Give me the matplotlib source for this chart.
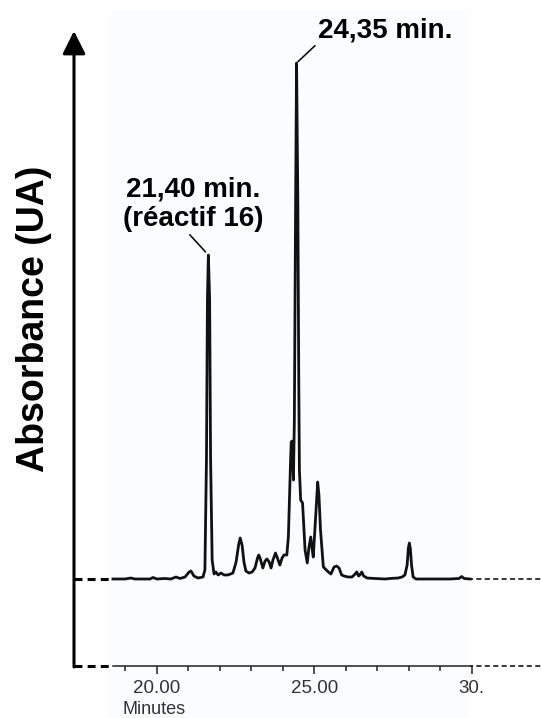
"""
Chromatogramme HPLC : absorbance en fonction du temps de rétention
"""

import matplotlib.pyplot as plt
from matplotlib.patches import Rectangle
import numpy as np

plt.rcParams["font.family"] = ["Liberation Sans", "DejaVu Sans"]

# temps de rétention (min) et absorbance relative (pic principal = 100)
temps = [18.61, 18.99, 19.18, 19.31, 19.79, 19.88, 20.01, 20.26, 20.45, 20.61,
         20.74, 20.90, 21.03, 21.09, 21.18, 21.31, 21.47, 21.53, 21.58, 21.61,
         21.64, 21.68, 21.71, 21.76, 21.82, 21.88, 21.95, 22.04, 22.14, 22.26,
         22.42, 22.52, 22.60, 22.65, 22.71, 22.77, 22.83, 22.93, 23.03, 23.12,
         23.20, 23.24, 23.28, 23.37, 23.44, 23.50, 23.57, 23.63, 23.69, 23.77,
         23.82, 23.91, 23.98, 24.04, 24.13, 24.18, 24.25, 24.27, 24.30, 24.34,
         24.37, 24.41, 24.44, 24.48, 24.51, 24.53, 24.57, 24.63, 24.71, 24.78,
         24.83, 24.89, 24.93, 24.97, 25.04, 25.11, 25.15, 25.20, 25.29, 25.45,
         25.53, 25.63, 25.71, 25.79, 25.87, 25.95, 26.07, 26.20, 26.30, 26.35,
         26.41, 26.45, 26.51, 26.57, 26.68, 26.93, 27.25, 27.41, 27.66, 27.79,
         27.88, 27.95, 27.99, 28.02, 28.05, 28.09, 28.14, 28.23, 28.68, 28.99,
         29.31, 29.60, 29.68, 29.76, 29.95]
absorbance = [0.0, 0.0, 0.19, 0.0, 0.0, 0.29, 0.0, 0.10, 0.0, 0.39,
              0.10, 0.39, 1.36, 1.55, 0.58, 0.19, 0.39, 1.74, 23.45, 54.07,
              62.79, 54.07, 23.45, 3.68, 0.97, 1.36, 0.78, 1.16, 0.78, 0.78,
              1.16, 3.29, 6.59, 7.95, 6.59, 3.29, 1.55, 1.16, 1.36, 2.13,
              4.07, 4.65, 4.07, 2.13, 3.49, 3.88, 3.29, 2.13, 3.68, 5.04,
              4.26, 2.71, 4.07, 4.65, 4.65, 8.14, 23.06, 26.55, 26.74, 19.19,
              30.81, 73.45, 100.0, 73.45, 38.57, 21.12, 15.31, 14.73, 5.62, 3.10,
              6.01, 8.14, 6.01, 4.26, 11.43, 18.80, 16.28, 9.50, 2.33, 1.36,
              0.97, 2.33, 2.52, 2.13, 0.78, 0.58, 0.39, 0.39, 0.97, 1.36,
              0.58, 0.78, 1.36, 0.58, 0.19, 0.10, 0.0, 0.10, 0.19, 0.39,
              0.78, 2.71, 6.01, 6.98, 6.01, 2.71, 0.39, 0.0, 0.0, 0.0,
              0.0, 0.10, 0.48, 0.10, 0.0]

ticks_majeurs = [20, 25, 30]
ticks_labels = ["20.00", "25.00", "30."]
ticks_mineurs = [19, 21, 22, 23, 24, 26, 27, 28, 29]
etiquettes = ["24,35 min.", "21,40 min.\n(réactif 16)"]

W, H = 541, 718
fig = plt.figure(figsize=(W / 100, H / 100), dpi=100)

# calque de décor en pixels : axe fléché, pointillés, fond de l'encart
deco = fig.add_axes([0, 0, 1, 1], zorder=0)
deco.set_xlim(0, W)
deco.set_ylim(H, 0)
deco.axis("off")

for y in (579, 666):
    deco.plot([74, 112], [y, y], color="black", lw=2.2, ls=(0, (2.6, 1.7)),
              solid_capstyle="butt")
    deco.plot([468, W], [y, y], color="black", lw=1.1, ls=(0, (3.3, 2.2)))

deco.add_patch(Rectangle((110, 10), 360, H - 10, facecolor="#fafcfd",
                         edgecolor="none", zorder=3))

deco.annotate("", xy=(74, 31), xytext=(74, 667),
              arrowprops=dict(arrowstyle="-|>,head_length=0.4,head_width=0.2",
                              color="black", lw=2.2, mutation_scale=35,
                              shrinkA=0, shrinkB=0), zorder=4)
deco.text(34, 319, "Absorbance (UA)", rotation=90, ha="center", va="center",
          fontsize=27, fontweight="bold", zorder=4)

# chromatogramme
ax = fig.add_axes([110 / W, (H - 666) / H, 361.7 / W, (666 - 10) / H], zorder=1)
ax.patch.set_alpha(0)
ax.plot(temps, absorbance, color="#111111", lw=2.0, solid_joinstyle="round")

ax.set_xlim(18.517, 30.0)
ax.set_ylim(-(666 - 579) / 5.16, (579 - 10) / 5.16)
for s in ["left", "top", "right"]:
    ax.spines[s].set_visible(False)
ax.spines["bottom"].set_linewidth(1.1)
ax.spines["bottom"].set_color("#222222")
ax.spines["bottom"].set_bounds(18.61, 30.0)
ax.set_yticks([])
ax.set_xticks(ticks_majeurs)
ax.set_xticklabels(ticks_labels)
ax.set_xticks(ticks_mineurs, minor=True)
ax.tick_params(axis="x", which="major", length=5.8, width=1.1, color="#222222",
               labelsize=13.5, labelcolor="#333333", pad=4)
ax.tick_params(axis="x", which="minor", length=3.6, width=1.1, color="#222222")
fig.text(123 / W, 1 - 714 / H, "Minutes", fontsize=13, color="#333333",
         ha="left", va="baseline")

# étiquettes des pics
t = np.array(temps)
a = np.array(absorbance)
i_main = int(np.argmax(a))
i_reac = int(np.argmax(np.where(t < 23, a, 0)))

ax.annotate(etiquettes[0], xy=(t[i_main], a[i_main]), xytext=(15.3, 14.4),
            textcoords="offset points", ha="left", va="bottom",
            fontsize=20, fontweight="bold",
            arrowprops=dict(arrowstyle="-", color="black", lw=1.1,
                            shrinkA=0, shrinkB=1.5, relpos=(0, 0)))
ax.annotate(etiquettes[1], xy=(t[i_reac], a[i_reac]), xytext=(-11.2, 16.6),
            textcoords="offset points", ha="center", va="bottom",
            multialignment="center", linespacing=1.15,
            fontsize=20, fontweight="bold",
            arrowprops=dict(arrowstyle="-", color="black", lw=1.1,
                            shrinkA=0, shrinkB=3, relpos=(0.46, 0)))

fig.savefig("out.png", dpi=100)
